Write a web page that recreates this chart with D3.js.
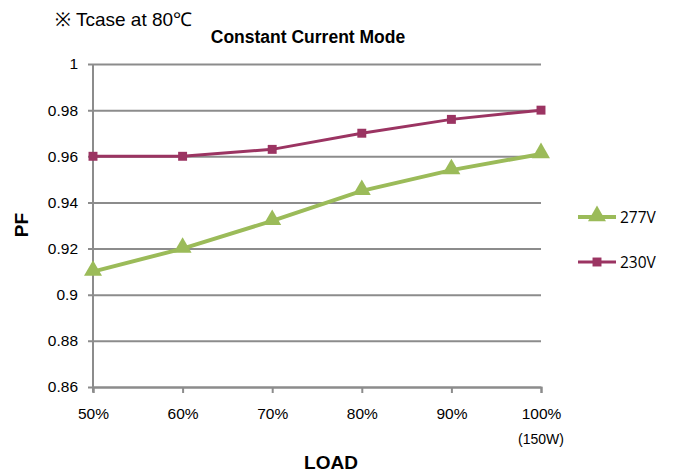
<!DOCTYPE html>
<html>
<head>
<meta charset="utf-8">
<script src="https://cdn.jsdelivr.net/npm/d3@7"></script>
<style>
  body { margin: 0; background: #fff; }
  svg { display: block; font-family: "Open Sans", "Liberation Sans", sans-serif; }
</style>
</head>
<body>
<div id="chart"></div>
<script>
// data
const loads = ['50%', '60%', '70%', '80%', '90%', '100%'];
const pf277 = [0.910, 0.920, 0.932, 0.945, 0.954, 0.961];
const pf230 = [0.960, 0.960, 0.963, 0.970, 0.976, 0.980];
const yTicks = [0.86, 0.88, 0.9, 0.92, 0.94, 0.96, 0.98, 1];

const W = 674, H = 473;
const margin = { top: 64, right: 133, bottom: 86, left: 93 };
const width = W - margin.left - margin.right;
const height = H - margin.top - margin.bottom;

const svg = d3.select('#chart').append('svg')
    .attr('width', W)
    .attr('height', H);

const g = svg.append('g')
    .attr('transform', `translate(${margin.left},${margin.top})`);

const x = d3.scalePoint().domain(loads).range([0, width]);
const y = d3.scaleLinear().domain([0.86, 1]).range([height, 0]);

// horizontal grid + y ticks
g.append('g')
    .call(d3.axisLeft(y).tickValues(yTicks).tickSize(-width).tickPadding(15)
        .tickFormat(d => d3.format('')(+d.toFixed(2))))
    .call(a => a.select('.domain').remove())
    .call(a => a.selectAll('.tick line').attr('stroke', '#8c8c8c').attr('stroke-width', 2).attr('x1', -5))
    .call(a => a.selectAll('.tick text').attr('font-size', 15.5).attr('fill', '#000'));

// y axis line
g.append('line')
    .attr('x1', 0).attr('x2', 0).attr('y1', 0).attr('y2', height + 5)
    .attr('stroke', '#8c8c8c').attr('stroke-width', 2);

// x axis
g.append('g')
    .attr('transform', `translate(0,${height})`)
    .call(d3.axisBottom(x).tickSize(6).tickPadding(15))
    .call(a => a.select('.domain').attr('stroke', '#8c8c8c').attr('stroke-width', 2))
    .call(a => a.selectAll('.tick line').attr('stroke', '#8c8c8c').attr('stroke-width', 2))
    .call(a => a.selectAll('.tick text').attr('font-size', 15.5).attr('fill', '#000'));

const line = d3.line().x((d, i) => x(loads[i])).y(d => y(d));

const series = [
    { name: '230V', values: pf230, color: '#9b3462', width: 3, marker: 'square' },
    { name: '277V', values: pf277, color: '#9bbb59', width: 4, marker: 'triangle' }
];

const tri = d3.symbol().type(d3.symbolTriangle).size(140);
const sq = d3.symbol().type(d3.symbolSquare).size(80);

series.forEach(s => {
    g.append('path')
        .datum(s.values)
        .attr('d', line)
        .attr('fill', 'none')
        .attr('stroke', s.color)
        .attr('stroke-width', s.width);

    g.selectAll(null)
        .data(s.values)
        .join('path')
        .attr('transform', (d, i) => `translate(${x(loads[i])},${y(d) + (s.marker === 'triangle' ? -1 : 0)})`)
        .attr('d', s.marker === 'triangle' ? tri : sq)
        .attr('fill', s.color);
});

// legend
const legendItems = [series[1], series[0]];
const legend = svg.append('g').attr('transform', 'translate(578,217)');
legendItems.forEach((s, i) => {
    const row = legend.append('g').attr('transform', `translate(0,${i * 45})`);
    row.append('line').attr('x1', 0).attr('x2', 38).attr('y1', 0).attr('y2', 0)
        .attr('stroke', s.color).attr('stroke-width', s.width);
    row.append('path')
        .attr('transform', `translate(19,${s.marker === 'triangle' ? -1 : 0})`)
        .attr('d', s.marker === 'triangle' ? tri : sq)
        .attr('fill', s.color);
    row.append('text').attr('x', 42).attr('y', 6)
        .attr('font-size', 15.5).text(s.name);
});

// titles
svg.append('text')
    .attr('x', 55).attr('y', 26)
    .attr('font-family', '"Liberation Sans", sans-serif')
    .attr('font-size', 19)
    .text('※ Tcase at 80℃');

svg.append('text')
    .attr('x', 308).attr('y', 43)
    .attr('text-anchor', 'middle')
    .attr('font-family', '"Liberation Sans Narrow", "Liberation Sans", sans-serif')
    .attr('font-weight', 'bold')
    .attr('font-size', 17.5)
    .text('Constant Current Mode');

svg.append('text')
    .attr('x', margin.left + width).attr('y', 444)
    .attr('text-anchor', 'middle')
    .attr('font-family', '"Liberation Sans Narrow", "Liberation Sans", sans-serif')
    .attr('font-size', 14)
    .text('(150W)');

svg.append('text')
    .attr('x', 331).attr('y', 469)
    .attr('text-anchor', 'middle')
    .attr('font-family', '"Liberation Sans Narrow", "Liberation Sans", sans-serif')
    .attr('font-weight', 'bold')
    .attr('font-size', 19)
    .text('LOAD');

svg.append('text')
    .attr('transform', 'translate(28,225) rotate(-90)')
    .attr('text-anchor', 'middle')
    .attr('font-family', '"Liberation Sans Narrow", "Liberation Sans", sans-serif')
    .attr('font-weight', 'bold')
    .attr('font-size', 19)
    .text('PF');
</script>
</body>
</html>
